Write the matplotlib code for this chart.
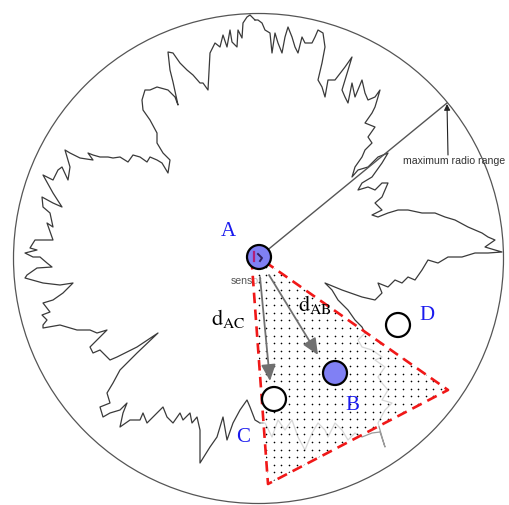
import numpy as np
import matplotlib
matplotlib.use("Agg")
import matplotlib.pyplot as plt
from matplotlib.patches import Circle, Polygon

# ---------------- data (diagram coordinates, y grows downward) ----------------
# irregular radio-range outline of sensor A
range_x = [255, 250, 247, 243, 242, 238, 237, 232, 230, 227, 223, 220, 215, 210, 208, 203, 200,
           193, 187, 180, 173, 168, 170, 173, 178, 175, 168, 157, 150, 145, 142, 143, 150, 157,
           157, 163, 170, 168, 162, 157, 150, 147, 140, 133, 128, 120, 113, 108, 100, 93, 88, 93,
           80, 70, 65, 70, 68, 62, 58, 53, 47, 43, 53, 62, 53, 42, 43, 50, 53, 47, 53, 43, 35, 30,
           37,
           25, 33, 40, 47, 52, 37, 27, 25, 43, 60, 73, 63, 53, 43, 50, 42, 47, 43, 43, 60, 77, 90,
           97, 107, 97, 90, 93, 100, 110, 117, 137, 158, 137, 120, 113, 107, 110, 100, 103, 110,
           120, 127, 123, 120, 130, 140, 143, 147, 153, 163, 167, 173, 180, 183, 190, 192, 197,
           200, 200, 210, 217, 223, 227, 233, 240, 247, 250, 255, 260,
           265, 272, 278, 285, 292, 298, 305, 312, 318, 325, 328, 335, 342, 348, 355, 362, 372,
           380, 385, 382, 378, 385, 392, 382, 388, 382, 378, 385, 375, 382, 372, 362, 358,
           365, 362, 355, 348, 338, 332, 325,
           342, 362, 375, 382, 378, 388, 395, 402, 408, 415, 422, 428, 438, 448, 462, 475, 488,
           502,
           495, 485, 495, 488, 482, 468, 455, 445, 435, 422, 408, 398, 388, 378, 372, 382, 375,
           382, 385, 388, 382, 375, 368, 358, 362, 372, 382, 388, 378, 368, 358, 352, 355, 362,
           365, 372, 368, 375, 365, 372, 375, 378, 380, 375, 368, 365, 362, 355, 352, 348, 345,
           342, 352, 345, 335, 328, 325, 322, 318, 322, 325, 323, 318, 315, 312, 305, 302, 298,
           295, 292, 288, 285, 282, 278, 275, 272, 270, 265, 262, 258, 255]
range_y = [20, 15, 17, 23, 38, 30, 47, 42, 30, 47, 35, 47, 43, 53, 90, 83, 83,
           75, 70, 63, 53, 52, 70, 82, 105, 97, 90, 87, 90, 90, 100, 110, 120, 133,
           143, 153, 160, 173, 163, 160, 157, 162, 157, 155, 162, 157, 158, 157, 157, 155, 153, 160,
           158, 153, 150, 167, 180, 167, 170, 180, 177, 175, 193, 207, 203, 197, 207, 213, 227, 223, 240, 240, 240, 248,
           250,
           253, 257, 257, 263, 267, 268, 275, 278, 283, 285, 283, 293, 300, 303, 312, 315, 320, 325, 328, 325, 330, 330,
           333, 330, 340, 347, 353, 350, 360, 357, 347, 333, 353, 370, 383, 393, 403, 407, 417, 413,
           410, 403, 413, 427, 420, 420, 413, 423, 417, 407, 417, 423, 413, 420, 413, 423, 417,
           430, 463, 447, 437, 417, 440, 423, 410, 400, 407, 420, 423,
           423, 437, 420, 430, 420, 437, 450, 433, 423, 430, 437, 423, 430, 440, 433, 437, 433,
           432, 447, 437, 423, 410, 403, 400, 390, 383, 377, 367, 360, 357, 350, 347, 340,
           333, 327, 320, 310, 300, 290, 283,
           290, 297, 300, 293, 283, 287, 280, 283, 277, 280, 270, 260, 263, 257, 257, 253, 253,
           252,
           250, 247, 240, 237, 233, 227, 220, 217, 213, 213, 210, 210, 213, 217, 215, 210, 203,
           197, 190, 183, 183, 190, 187, 190, 183, 177, 163, 153, 157, 167, 170, 177, 167, 157,
           150, 143, 137, 127, 123, 113, 107, 97, 90, 97, 100, 93, 80, 97, 83, 103, 97,
           90, 57, 67, 80, 80, 97, 87, 80, 63, 47, 33, 30, 37, 43, 43, 37, 53,
           47, 37, 27, 37, 53, 43, 33, 53, 33, 30, 23, 20, 20]
# part of the outline drawn faded (behind the estimated region)
faded_from = (260, 423)
faded_to = (365, 333)

# maximum radio range circle
range_center = (258.5, 258.5)
range_radius = 245
range_tip = (447, 103)

# sensor nodes
node_names = ["A", "B", "C", "D"]
node_x = [259, 335, 274, 398]
node_y = [257, 373, 399, 325]
node_filled = [True, True, False, False]
label_x = [228, 352, 243, 427]
label_y = [232, 405, 437, 316]

# estimated region (triangle)
tri_x = [251, 448, 268]
tri_y = [252, 390, 484]

# distance arrows
dist_names = ["AC", "AB"]
arrow_start_x = [260, 269]
arrow_start_y = [277, 275]
arrow_end_x = [270, 318]
arrow_end_y = [381, 355]
dist_label_x = [228, 315]
dist_label_y = [318, 304]

# ---------------- drawing ----------------
plt.rcParams["mathtext.fontset"] = "stix"
fig = plt.figure(figsize=(5.1, 5.05), dpi=100)
ax = fig.add_axes([0, 0, 1, 1])
ax.set_xlim(0, 510)
ax.set_ylim(505, 0)
ax.axis("off")

serif = "Liberation Serif"
sans = "Liberation Sans"

# max range circle
ax.add_patch(Circle(range_center, range_radius, fill=False, ec="#555555", lw=0.9, zorder=1))

# radio range outline
pts = list(zip(range_x, range_y))
i0 = pts.index(faded_from)
i1 = pts.index(faded_to)
ax.plot(range_x[:i0 + 1], range_y[:i0 + 1], color="#3a3a3a", lw=0.9, zorder=2)
ax.plot(range_x[i0:i1 + 1], range_y[i0:i1 + 1], color="#9a9a9a", lw=0.9, zorder=2)
ax.plot(range_x[i1:], range_y[i1:], color="#3a3a3a", lw=0.9, zorder=2)

# radius line and annotation
ax.plot([node_x[0], range_tip[0]], [node_y[0], range_tip[1]], color="#555555", lw=1.0, zorder=3)
ax.annotate("", xy=(range_tip[0], range_tip[1] + 1), xytext=(range_tip[0] + 1, 155),
            arrowprops=dict(arrowstyle="-|>", color="#222222", lw=0.8,
                            mutation_scale=9, shrinkA=0, shrinkB=0), zorder=3)
ax.text(403, 161, "maximum radio range", fontsize=7.6, family=sans, color="#333333",
        ha="left", va="center", zorder=3)

# sensor text near A (partly hidden by the region)
ax.text(231, 281, "sensor", fontsize=7.6, family=sans, color="#555555",
        ha="left", va="center", zorder=3)

# triangle region: faded white fill, dots, red dashed border
tri = Polygon(list(zip(tri_x, tri_y)), closed=True, fc="white", alpha=0.6, ec="none", zorder=4)
ax.add_patch(tri)
clip_tri = Polygon(list(zip(tri_x, tri_y)), closed=True, fc="none", ec="none", zorder=4)
ax.add_patch(clip_tri)
gx, gy = np.meshgrid(np.arange(min(tri_x), max(tri_x) + 8, 7.6),
                     np.arange(min(tri_y), max(tri_y) + 8, 7.6))
dots = ax.scatter(gx.ravel(), gy.ravel(), s=1.4, c="black", linewidths=0, zorder=5)
dots.set_clip_path(clip_tri)
ax.plot(tri_x + [tri_x[0]], tri_y + [tri_y[0]], color="#f01818", lw=1.9,
        dashes=(4.0, 2.4), zorder=6)

# distance arrows
for i, name in enumerate(dist_names):
    ax.annotate("", xy=(arrow_end_x[i], arrow_end_y[i]),
                xytext=(arrow_start_x[i], arrow_start_y[i]),
                arrowprops=dict(arrowstyle="-|>,head_length=0.45,head_width=0.2",
                                color="#707070", lw=1.3, mutation_scale=22,
                                shrinkA=0, shrinkB=0), zorder=7)
    ax.text(dist_label_x[i], dist_label_y[i], r"$\mathrm{d}_{\mathrm{%s}}$" % name,
            fontsize=16, color="black", ha="center", va="center", zorder=7)

# nodes
for i, name in enumerate(node_names):
    fc = "#8080f4" if node_filled[i] else "white"
    ax.add_patch(Circle((node_x[i], node_y[i]), 12, fc=fc, ec="black", lw=1.6, zorder=8))
    ax.text(label_x[i], label_y[i], name, fontsize=15, family=serif, color="#1a1aee",
            ha="center", va="center", zorder=9)

# small sensor icon inside A
ax.plot([node_x[0] - 5, node_x[0] - 5], [node_y[0] - 5, node_y[0] + 4], color="#b0207a", lw=1.6, zorder=9)
ax.plot([node_x[0] - 1, node_x[0] + 3, node_x[0] + 1], [node_y[0] - 3, node_y[0] + 1, node_y[0] + 4],
        color="#302060", lw=1.4, zorder=9)

fig.savefig("out.png", dpi=100)
